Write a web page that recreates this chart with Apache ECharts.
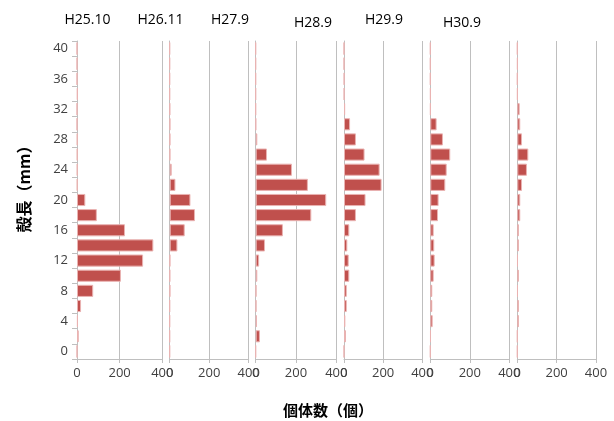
<!DOCTYPE html>
<html><head><meta charset="utf-8">
<script src="https://cdn.jsdelivr.net/npm/echarts@6/dist/echarts.min.js"></script>
<style>html,body{margin:0;padding:0;background:#fff}#c{width:614px;height:421px}</style>
</head><body><div id="c"></div>
<script>
// Shell length bins (mm), bottom to top
var categories = [0,2,4,6,8,10,12,14,16,18,20,22,24,26,28,30,32,34,36,38,40];
var panelTitles = ['H25.10','H26.11','H27.9','H28.9','H29.9','H30.9'];
var xTicks = [0,200,400];
// counts per bin for each survey
var h25_10 = [0,8,4,19,76,206,310,358,225,93,39,2,2,2,2,0,0,3,0,0,0];
var h26_11 = [0,0,0,0,2,1,2,39,76,128,105,29,10,2,2,2,1,0,0,0,0];
var h27_9  = [0,21,6,3,3,8,17,46,135,276,350,259,180,56,8,1,0,0,0,0,0];
var h28_9  = [0,10,7,14,14,27,24,17,27,61,110,192,182,105,61,31,6,1,1,0,0];
var h29_9  = [0,2,12,10,10,17,22,20,17,39,42,76,83,101,64,32,1,1,0,0,0];
var h30_9  = [0,0,8,8,2,8,2,8,8,15,15,24,49,56,24,15,12,1,0,1,0];
var seriesData = [h25_10,h26_11,h27_9,h28_9,h29_9,h30_9];

var gridLefts = [77,169.7,255.7,344,430.3,517.3];
var gridWidths = [85.3,79,80.6,78.3,79,78.7];
var titlePos = [[87.5,20],[160.5,20],[230,20],[313,23],[384,20],[462,23]];
var FONT = "'Open Sans','Noto Sans CJK JP',sans-serif";
var CJK = "'Noto Sans CJK JP','Open Sans',sans-serif";
var axisGray = '#bfbfbf';

var grids=[],xAxes=[],yAxes=[],series=[],graphics=[];
for (var i=0;i<6;i++){
  grids.push({left:gridLefts[i], width:gridWidths[i], top:41, height:318});
  xAxes.push({type:'value', gridIndex:i, min:xTicks[0], max:xTicks[xTicks.length-1], interval:200,
    axisLine:{show:true,lineStyle:{color:axisGray,width:1}},
    axisTick:{show:true,length:4,lineStyle:{color:axisGray}},
    splitLine:{show:true,lineStyle:{color:axisGray,width:1}},
    axisLabel:{show:true,color:'#404040',fontSize:13,fontFamily:FONT,margin:8}});
  yAxes.push({type:'category', gridIndex:i, data:categories, boundaryGap:true,
    axisLine:{show:true,lineStyle:{color:axisGray,width:1}},
    axisTick:{show:i===0,length:5,interval:0,lineStyle:{color:axisGray}},
    axisLabel:{show:i===0,interval:1,color:'#404040',fontSize:13,fontFamily:FONT,margin:9},
    splitLine:{show:false}});
  series.push({type:'bar', xAxisIndex:i, yAxisIndex:i, data:seriesData[i], barCategoryGap:'20%',
    itemStyle:{color:'#c0504d', borderColor:'#eab3b2', borderWidth:1}, animation:false});
  graphics.push({type:'text', x:titlePos[i][0], y:titlePos[i][1],
    style:{text:panelTitles[i], fill:'#000', font:'14px '+FONT, textAlign:'center', textVerticalAlign:'middle'}});
}
graphics.push({type:'text', x:24, y:185, rotation:Math.PI/2,
  style:{text:'殻長（mm）', fill:'#000', font:'bold 16px '+CJK, textAlign:'center', textVerticalAlign:'middle'}});
graphics.push({type:'text', x:328, y:410,
  style:{text:'個体数（個）', fill:'#000', font:'bold 15px '+CJK, textAlign:'center', textVerticalAlign:'middle'}});

var chart = echarts.init(document.getElementById('c'), null, {renderer:'canvas'});
chart.setOption({animation:false, grid:grids, xAxis:xAxes, yAxis:yAxes, series:series, graphic:graphics});
</script></body></html>
